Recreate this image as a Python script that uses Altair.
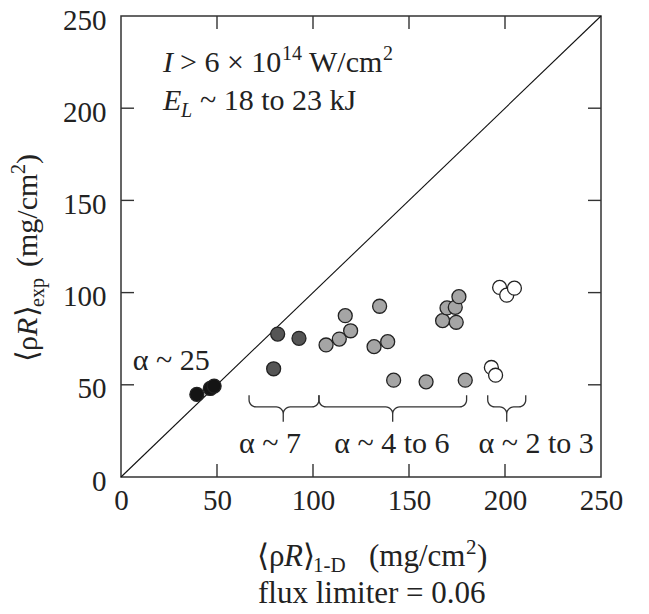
import altair as alt
import pandas as pd
import numpy as np

# ---------------- data ----------------
# alpha ~ 25 (black)
a25_x = [39.5, 46.5, 48.5]
a25_y = [44.8, 48.0, 49.3]
# alpha ~ 7 (dark grey)
a7_x = [81.6, 92.7, 79.5]
a7_y = [77.5, 75.2, 58.7]
# alpha ~ 4 to 6 (grey)
a46_x = [106.8, 113.7, 116.8, 119.6, 131.8, 138.9, 134.7, 142.0, 158.9, 179.3,
         167.5, 169.8, 174.1, 174.6, 176.0]
a46_y = [71.6, 74.8, 87.5, 79.3, 70.7, 73.4, 92.6, 52.5, 51.6, 52.5,
         84.8, 91.7, 92.0, 83.9, 97.8]
# alpha ~ 2 to 3 (open)
a23_x = [197.2, 200.9, 204.9, 192.9, 195.1]
a23_y = [102.8, 98.6, 102.4, 59.4, 55.2]

groups = ["a25", "a7", "a46", "a23"]
group_fill = ["#141414", "#555555", "#a5a5a5", "#ffffff"]

tick_vals = [0, 50, 100, 150, 200, 250]
inner_ticks = [50, 100, 150, 200]
diag = [0, 250]

# braces (start, middle, end along x)
brace_x0 = [66.7, 103.1, 191.0]
brace_xm = [84.5, 141.5, 200.9]
brace_x1 = [103.1, 180.0, 210.8]
brace_ytop, brace_ymid, brace_ybot = 44.4, 38.0, 29.9

# alpha labels
alpha_text = ["α ~ 25", "α ~ 7", "α ~ 4 to 6", "α ~ 2 to 3"]
alpha_x = [26.2, 77.6, 141.1, 216.2]
alpha_y = [58.0, 13.0, 13.0, 13.0]

# ---------------- layout ----------------
W, H = 480, 461
FONT = "Liberation Serif"
TXT = "#222222"
FS = 30
SFS = 20

pts = pd.DataFrame({
    "x": a25_x + a7_x + a46_x + a23_x,
    "y": a25_y + a7_y + a46_y + a23_y,
    "g": ["a25"] * len(a25_x) + ["a7"] * len(a7_x) + ["a46"] * len(a46_x) + ["a23"] * len(a23_x),
})

xs = alt.Scale(domain=[0, 250], nice=False, zero=False)
ys = alt.Scale(domain=[0, 250], nice=False, zero=False)

axis_common = dict(domain=False, ticks=False, tickSize=0, grid=False, labelFont=FONT,
                   labelFontSize=29, labelColor=TXT, labelFlush=False, labelOverlap=False,
                   values=tick_vals, title=None)

# brace geometry (pixel radius converted to data units)
rx = 7 / (W / 250)
ry = 7 / (H / 250)
brace_rows = []
for b, (x0, xm, x1) in enumerate(zip(brace_x0, brace_xm, brace_x1)):
    seq = [(x0, brace_ytop)]
    t = np.linspace(np.pi, 1.5 * np.pi, 8)
    seq += list(zip(x0 + rx + rx * np.cos(t), brace_ymid + ry + ry * np.sin(t)))
    t = np.linspace(0.5 * np.pi, 0.0, 8)
    seq += list(zip(xm - rx + rx * np.cos(t), brace_ymid - ry + ry * np.sin(t)))
    seq += [(xm, brace_ybot)]
    t = np.linspace(np.pi, 0.5 * np.pi, 8)
    seq += list(zip(xm + rx + rx * np.cos(t), brace_ymid - ry + ry * np.sin(t)))
    t = np.linspace(1.5 * np.pi, 2 * np.pi, 8)
    seq += list(zip(x1 - rx + rx * np.cos(t), brace_ymid + ry + ry * np.sin(t)))
    seq += [(x1, brace_ytop)]
    for i, (px, py) in enumerate(seq):
        brace_rows.append({"b": b, "o": i, "x": px, "y": py})
braces = pd.DataFrame(brace_rows)

diag_df = pd.DataFrame({"x": diag, "y": diag})
tick_df = pd.DataFrame({"v": inner_ticks})
lab_df = pd.DataFrame({"t": alpha_text, "x": alpha_x, "y": alpha_y})

base_x = alt.X("x:Q", scale=xs, axis=alt.Axis(**axis_common, labelPadding=9))
base_y = alt.Y("y:Q", scale=ys, axis=alt.Axis(**axis_common, labelPadding=15, labelOffset=4))

diag_layer = alt.Chart(diag_df).mark_line(color="#111111", strokeWidth=1.1).encode(
    x=base_x, y=base_y)

brace_layer = alt.Chart(braces).mark_line(color="#333333", strokeWidth=1.3).encode(
    x=alt.X("x:Q", scale=xs), y=alt.Y("y:Q", scale=ys), detail="b:N", order="o:Q")

pt_layer = alt.Chart(pts).mark_point(filled=True, shape="circle", size=195,
                                     stroke="#222222", strokeWidth=1.3, opacity=1).encode(
    x=alt.X("x:Q", scale=xs), y=alt.Y("y:Q", scale=ys),
    fill=alt.Fill("g:N", scale=alt.Scale(domain=groups, range=group_fill), legend=None))

lab_layer = alt.Chart(lab_df).mark_text(font=FONT, fontSize=FS, color=TXT, align="center",
                                        baseline="alphabetic").encode(
    x=alt.X("x:Q", scale=xs), y=alt.Y("y:Q", scale=ys), text="t:N")

TL = 13
tick_col = "#333333"
tb = alt.Chart(tick_df).mark_rule(color=tick_col, strokeWidth=1.4).encode(
    x=alt.X("v:Q", scale=xs), y=alt.value(H), y2=alt.value(H - TL))
tt = alt.Chart(tick_df).mark_rule(color=tick_col, strokeWidth=1.4).encode(
    x=alt.X("v:Q", scale=xs), y=alt.value(0), y2=alt.value(TL))
tl = alt.Chart(tick_df).mark_rule(color=tick_col, strokeWidth=1.4).encode(
    y=alt.Y("v:Q", scale=ys), x=alt.value(0), x2=alt.value(TL))
tr = alt.Chart(tick_df).mark_rule(color=tick_col, strokeWidth=1.4).encode(
    y=alt.Y("v:Q", scale=ys), x=alt.value(W), x2=alt.value(W - TL))

one = pd.DataFrame({"a": [0]})


def piece(text, x, y, size=FS, italic=False, angle=0):
    return alt.Chart(one).mark_text(
        text=text, font=FONT, fontSize=size, color=TXT, align="left",
        baseline="alphabetic", fontStyle="italic" if italic else "normal", angle=angle
    ).encode(x=alt.value(x), y=alt.value(y))


texts = []
# top-left annotation
B1, B2 = 56, 94
X0 = 42
texts += [
    piece("I", X0, B1, italic=True),
    piece("> 6 × 10", X0 + 17, B1),
    piece("14", X0 + 119, B1 - 12, size=SFS),
    piece("W/cm", X0 + 146, B1),
    piece("2", X0 + 220, B1 - 12, size=SFS),
    piece("E", X0, B2, italic=True),
    piece("L", X0 + 18, B2 + 7, size=SFS, italic=True),
    piece("~ 18 to 23 kJ", X0 + 37, B2),
]
# x title
XB = 550
XF = 31
texts += [
    piece("⟨", 136, XB, size=XF),
    piece("ρ", 148, XB, size=XF),
    piece("R", 163, XB, size=XF, italic=True),
    piece("⟩", 182, XB, size=XF),
    piece("1-D", 192, XB + 6, size=SFS + 1),
    piece("(mg/cm", 248, XB, size=XF),
    piece("2", 345, XB - 12, size=SFS + 1),
    piece(")", 356, XB, size=XF),
    piece("flux limiter = 0.06", 137, 587, size=XF),
]
# y title (rotated, reading upward)
YB = -84
texts += [
    piece("⟨", YB, 346, angle=270),
    piece("ρ", YB, 335, angle=270),
    piece("R", YB, 320, italic=True, angle=270),
    piece("⟩", YB, 301, angle=270),
    piece("exp", YB + 7, 291, size=SFS, angle=270),
    piece("(mg/cm", YB, 251, angle=270),
    piece("2", YB - 12, 158, size=SFS, angle=270),
    piece(")", YB, 148, angle=270),
]

chart = alt.layer(diag_layer, brace_layer, tb, tt, tl, tr, pt_layer, lab_layer, *texts).properties(
    width=W, height=H,
    autosize=alt.AutoSizeParams(type="none"),
    padding={"left": 113, "top": 8, "right": 40, "bottom": 135},
    background="white",
).configure_view(stroke="#333333", strokeWidth=1.5)

chart.save("out.html", embed_options={"renderer": "svg", "actions": False})
